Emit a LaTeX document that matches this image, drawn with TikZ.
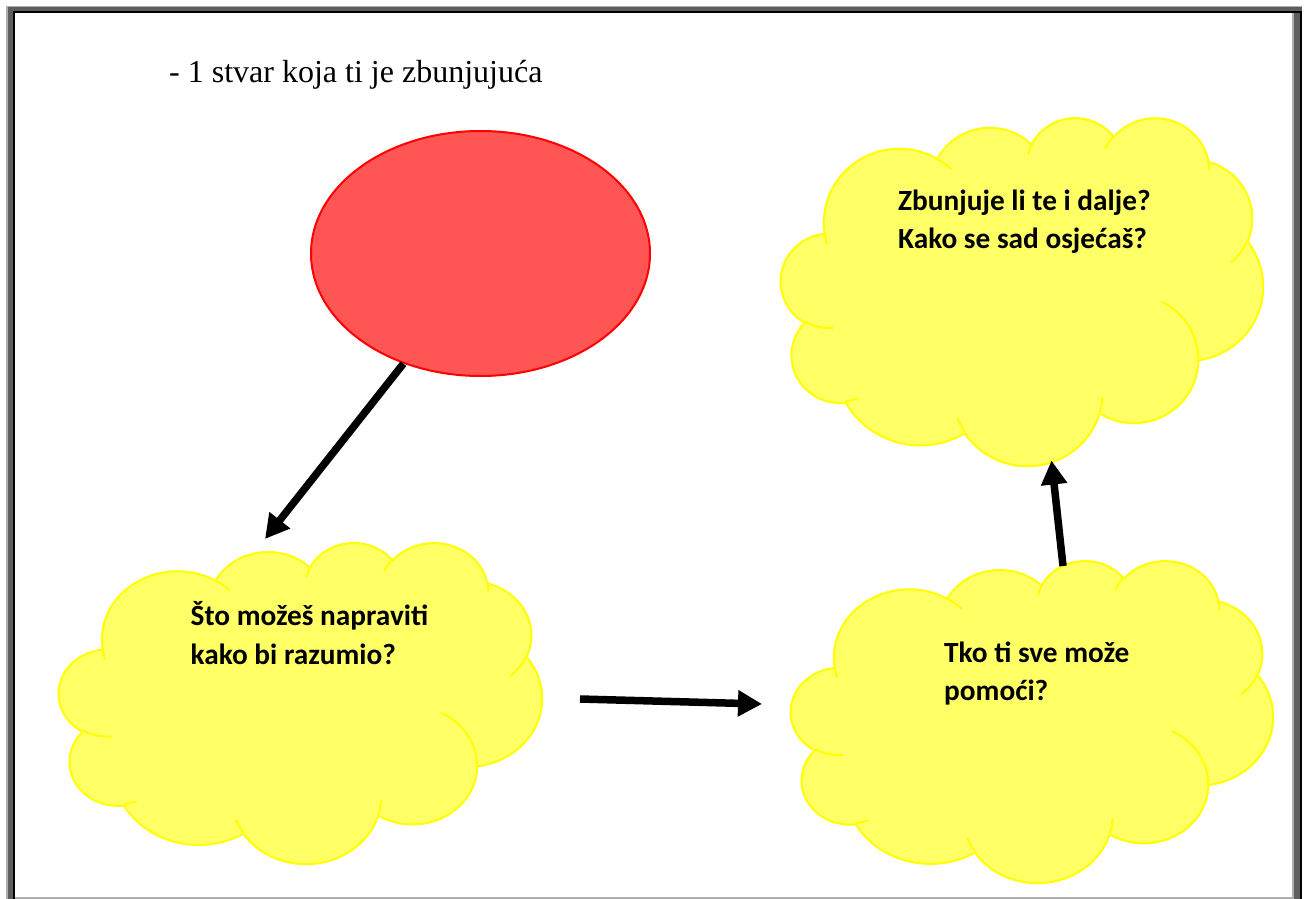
\documentclass[tikz,border=0pt]{standalone}
\usepackage{fontspec}
\usetikzlibrary{arrows.meta,shapes.geometric}
\newfontfamily\tnrfont{Liberation Serif}
\newfontfamily\carlfont{Carlito}
\definecolor{cloudfillc}{HTML}{FFFF66}
\definecolor{cloudlinec}{HTML}{FFFF00}
\definecolor{ellfillc}{HTML}{FF5555}
\definecolor{elllinec}{HTML}{FF0000}
\definecolor{lightframe}{HTML}{AEAEAE}
\definecolor{darkframe}{HTML}{5E5E5E}
% elliptical arc given DrawingML style: wR, hR, visual start angle, visual sweep
\newcommand\cldarc[4]{arc[x radius=#1pt, y radius=#2pt,
  start angle={atan2(#1*sin(#3),#2*cos(#3))},
  delta angle={mod(atan2(#1*sin(#3+#4),#2*cos(#3+#4))-atan2(#1*sin(#3),#2*cos(#3))+720,360)}]}
\newcommand\drawcloud[5]{%
  \begin{scope}[shift={(#1,#2)}, xscale=#3/43.2, yscale=#4/43.2]
    \path[cloudbody] (3.9,14.37)
      \cldarc{6.753}{9.190}{-190.48748}{123.78053}
      \cldarc{5.333}{7.267}{-144.10238}{89.94523}
      \cldarc{4.365}{5.945}{-145.80792}{99.72302}
      \cldarc{4.857}{6.595}{-130.98607}{117.24173}
      \cldarc{5.333}{7.273}{-78.70888}{109.02692}
      \cldarc{6.775}{9.220}{-46.26725}{130.269}
      \cldarc{5.785}{7.867}{0.62502}{114.03333}
      \cldarc{6.752}{9.215}{22.4516}{115.17255}
      \cldarc{7.720}{10.543}{66.24263}{75.71102}
      \cldarc{4.360}{5.918}{-274.94208}{146.73557}
      \cldarc{4.345}{5.945}{-246.8285}{152.51885}
      -- cycle;
    \path[cloudinner]
      (4.693,26.177) \cldarc{4.345}{5.945}{86.742}{26.4295}
      (6.928,34.899) \cldarc{4.360}{5.918}{73.61047}{11.44747}
      (16.478,39.090) \cldarc{6.752}{9.215}{137.62415}{14.0811}
      (28.827,34.751) \cldarc{6.752}{9.215}{6.45327}{15.99835}
      (34.129,22.954) \cldarc{5.785}{7.867}{-70.29235}{70.91737}
      (41.798,15.354) \cldarc{5.333}{7.273}{30.31803}{27.7515}
      (38.324,5.426) \cldarc{4.857}{6.595}{-13.74433}{14.8589}
      (29.078,3.952) \cldarc{4.857}{6.595}{-149.18145}{18.19537}
      (22.141,4.720) \cldarc{4.365}{5.945}{-163.49427}{17.68635}
      (14.000,5.192) \cldarc{6.753}{9.190}{-66.70695}{12.31935}
      (4.127,15.789) \cldarc{6.753}{9.190}{157.65435}{11.85817};
    \node[cloudbox] (#5) at (21.6,21.6) {};
  \end{scope}}
\tikzset{
  cloudbody/.style={fill=cloudfillc, draw=cloudlinec, line width=2pt, line join=round},
  cloudinner/.style={draw=cloudlinec, line width=2pt},
  cloudbox/.style={inner sep=0pt, minimum size=0pt},
  ellbox/.style={ellipse, draw=elllinec, fill=ellfillc, line width=2pt, inner sep=0pt},
  bigarrow/.style={draw=black, line width=7.5pt, -{Triangle[length=24pt,width=25pt]}},
  cloudtext/.style={anchor=base west, inner sep=0pt, font=\carlfont\bfseries\fontsize{29.3}{38}\selectfont},
  titletext/.style={anchor=base west, inner sep=0pt, font=\tnrfont\fontsize{32}{38}\selectfont},
}
\begin{document}
\begin{tikzpicture}[x=1pt,y=1pt,yscale=-1]
\useasboundingbox (0,0) rectangle (1307,899);
\fill[white] (0,0) rectangle (1307,899);
% page frame
\fill[lightframe] (6,6) rectangle (1302,7.5);
\fill[lightframe] (6,6) rectangle (8,899);
\fill[lightframe] (1292,13) rectangle (1294,899);
\fill[lightframe] (15,897) rectangle (1292,899);
\fill[darkframe] (8,7.5) rectangle (1302,11);
\fill[darkframe] (8,7.5) rectangle (13,899);
\fill[darkframe] (1294,11) rectangle (1300,899);
\fill[black] (13,11) rectangle (1300,13);
\fill[black] (13,11) rectangle (15,899);
\fill[black] (1300,11) rectangle (1302,899);
% title
\node[titletext] (title) at (169,83) {- 1 stvar koja ti je zbunjujuća};
% clouds
\drawcloud{781}{117}{482}{348}{cloudtop}
\drawcloud{59}{542}{483}{321}{cloudleft}
\drawcloud{791}{560}{482}{322}{cloudright}
% red ellipse
\node[ellbox, minimum width=339pt, minimum height=245pt] (ell) at (480.5,253.5) {};
% arrow end points
\coordinate (a1e) at (265,539);
\coordinate (a2s) at (580,699);
\coordinate (a2e) at (762,704);
\coordinate (a3s) at (1063,566);
\coordinate (a3e) at (1051.5,460.5);
\draw[bigarrow] (ell.-125.3) -- (a1e);
\draw[bigarrow] (a2s) -- (a2e);
\draw[bigarrow] (a3s) -- (a3e);
% texts
\node[cloudtext] (t3a) at (898,210) {Zbunjuje li te i dalje?};
\node[cloudtext] (t3b) at (898,248) {Kako se sad osjećaš?};
\node[cloudtext] (t1a) at (190.5,625) {Što možeš napraviti};
\node[cloudtext] (t1b) at (190.5,664) {kako bi razumio?};
\node[cloudtext] (t2a) at (944,662) {Tko ti sve može};
\node[cloudtext] (t2b) at (944,700) {pomoći?};
\end{tikzpicture}
\end{document}
